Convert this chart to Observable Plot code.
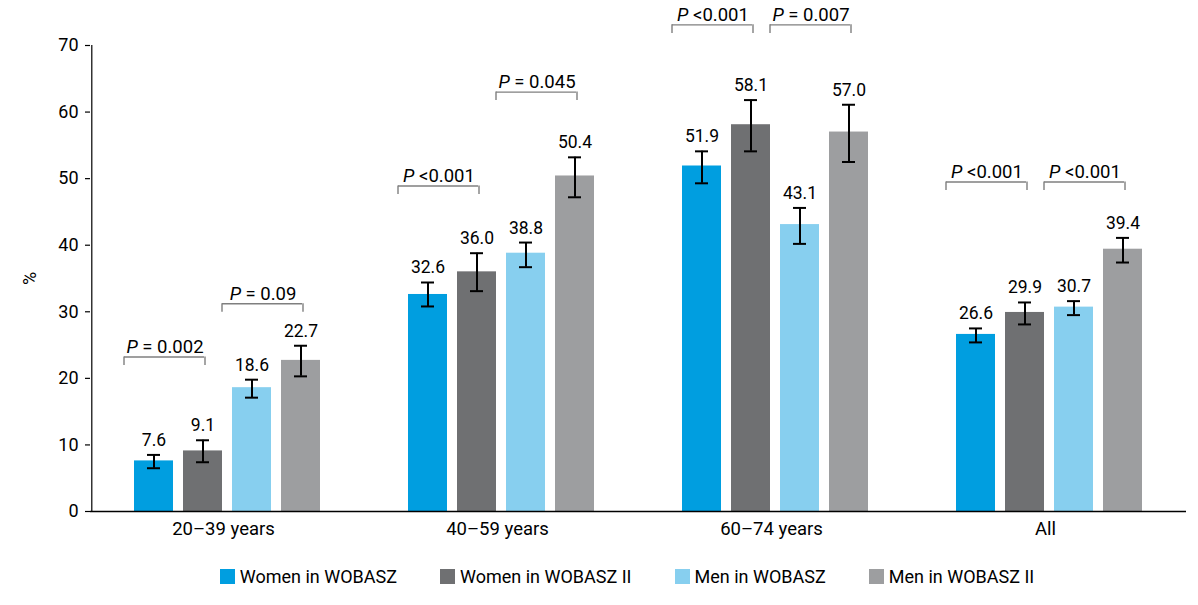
<!DOCTYPE html>
<html><head><meta charset="utf-8">
<script src="https://cdn.jsdelivr.net/npm/d3@7"></script>
<script src="https://cdn.jsdelivr.net/npm/@observablehq/plot@0.6"></script>
<style>
body{margin:0;background:#fff;}
#chart{width:1198px;font-family:Roboto,"Liberation Sans",sans-serif;}
#legend{margin-top:12px;width:1198px;}
div.lg-swatches{justify-content:center;font-family:Roboto,"Liberation Sans",sans-serif;font-size:18px;color:#000;margin-left:56px;}
div.lg-swatches .lg-swatch{margin-right:43px;}
div.lg-swatches .lg-swatch:last-child{margin-right:0;}
div.lg-swatches .lg-swatch svg{margin-right:5px;}
</style></head><body><div id="chart"></div><div id="legend"></div><script>
const groups = ["20\u201339 years", "40\u201359 years", "60\u201374 years", "All"];
const series = ["Women in WOBASZ", "Women in WOBASZ II", "Men in WOBASZ", "Men in WOBASZ II"];
const colors = ["#009ee0", "#6f7072", "#87cfef", "#9d9ea0"];
// values per series, in group order
const womenW  = [7.6, 32.6, 51.9, 26.6];
const womenW2 = [9.1, 36.0, 58.1, 29.9];
const menW    = [18.6, 38.8, 43.1, 30.7];
const menW2   = [22.7, 50.4, 57.0, 39.4];
// 95% CI lower / upper
const womenWLo  = [6.5, 30.8, 49.3, 25.4], womenWHi  = [8.5, 34.4, 54.1, 27.5];
const womenW2Lo = [7.4, 33.1, 54.1, 28.1], womenW2Hi = [10.7, 38.8, 61.8, 31.4];
const menWLo    = [17.1, 36.7, 40.2, 29.5], menWHi    = [19.8, 40.4, 45.6, 31.6];
const menW2Lo   = [20.3, 47.2, 52.5, 37.4], menW2Hi   = [24.9, 53.2, 61.1, 41.1];
// P-value brackets
const womenP = ["P = 0.002", "P <0.001", "P <0.001", "P <0.001"];
const menP   = ["P = 0.09", "P = 0.045", "P = 0.007", "P <0.001"];
const womenBracketY = [23.2, 48.9, 73.1, 49.5];
const menBracketY   = [31.2, 63.0, 73.1, 49.5];
const yTicks = [0, 10, 20, 30, 40, 50, 60, 70];

const vals = [womenW, womenW2, menW, menW2];
const lows = [womenWLo, womenW2Lo, menWLo, menW2Lo];
const highs = [womenWHi, womenW2Hi, menWHi, menW2Hi];
const rows = [];
groups.forEach((g, i) => series.forEach((s, j) => rows.push({group: g, series: s, value: vals[j][i], lo: lows[j][i], hi: highs[j][i]})));
const brackets = [];
groups.forEach((g, i) => {
  brackets.push({group: g, s1: series[0], s2: series[1], y: womenBracketY[i], label: womenP[i]});
  brackets.push({group: g, s1: series[2], s2: series[3], y: menBracketY[i], label: menP[i]});
});
const tickLen = 1.28;
const font = 'Roboto,"Liberation Sans",sans-serif';

const plot = Plot.plot({
  width: 1198, height: 548,
  marginLeft: 89, marginRight: 11, marginTop: 45, marginBottom: 37,
  style: {fontFamily: font, fontSize: "18px", color: "#000", background: "#fff"},
  fx: {domain: groups, padding: 0, label: null},
  x: {domain: series, paddingInner: 0.2, paddingOuter: 0.845, axis: null},
  y: {domain: [0, 70], label: null},
  color: {domain: series, range: colors},
  marks: [
    Plot.axisY({ticks: yTicks, tickSize: 5, tickPadding: 7, label: "%", labelArrow: "none", labelAnchor: "center", labelOffset: 67, strokeWidth: 1.2}),
    Plot.axisFx({anchor: "bottom", tickSize: 0, tickPadding: 10, label: null, dx: -4, fontSize: 18.5}),
    Plot.barY(rows, {fx: "group", x: "series", y: "value", fill: "series"}),
    Plot.ruleY([0], {stroke: "#000", strokeWidth: 1.5}),
    Plot.ruleX([{g: groups[0], s: series[0]}], {fx: "g", x: "s", y1: 0, y2: 70, dx: -62.2, stroke: "#000", strokeWidth: 1.2}),
    Plot.ruleX(rows, {fx: "group", x: "series", y1: "lo", y2: "hi", stroke: "#000", strokeWidth: 2}),
    Plot.tickY(rows, {fx: "group", x: "series", y: "lo", insetLeft: 13, insetRight: 13, stroke: "#000", strokeWidth: 2}),
    Plot.tickY(rows, {fx: "group", x: "series", y: "hi", insetLeft: 13, insetRight: 13, stroke: "#000", strokeWidth: 2}),
    Plot.text(rows, {fx: "group", x: "series", y: "hi", text: d => d.value.toFixed(1), dy: -9, lineAnchor: "bottom", fill: "#000", fontSize: 17.5}),
    Plot.ruleY(brackets, {fx: "group", x1: "s1", x2: "s2", y: "y", insetLeft: -10, insetRight: 18, stroke: "#7f7f7f", strokeWidth: 1.4}),
    Plot.ruleX(brackets, {fx: "group", x: "s1", y1: "y", y2: d => d.y - tickLen, dx: -30, stroke: "#7f7f7f", strokeWidth: 1.4}),
    Plot.ruleX(brackets, {fx: "group", x: "s2", y1: "y", y2: d => d.y - tickLen, dx: 2, stroke: "#7f7f7f", strokeWidth: 1.4}),
    Plot.text(brackets, {fx: "group", x: "s1", y: "y", text: "label", dx: 11, dy: -4, lineAnchor: "bottom", fill: "#000", fontSize: 18.5, className: "pval"})
  ]
});
d3.select(plot).selectAll("g.pval text").each(function() {
  const t = this.textContent;
  if (t.startsWith("P")) {
    const sel = d3.select(this);
    sel.text(null);
    sel.append("tspan").attr("font-style", "italic").text("P");
    sel.append("tspan").text(t.slice(1));
  }
});
document.getElementById("chart").appendChild(plot);
const leg = Plot.legend({color: {domain: series, range: colors}, swatchSize: 15, className: "lg"});
document.getElementById("legend").appendChild(leg);
</script></body></html>
